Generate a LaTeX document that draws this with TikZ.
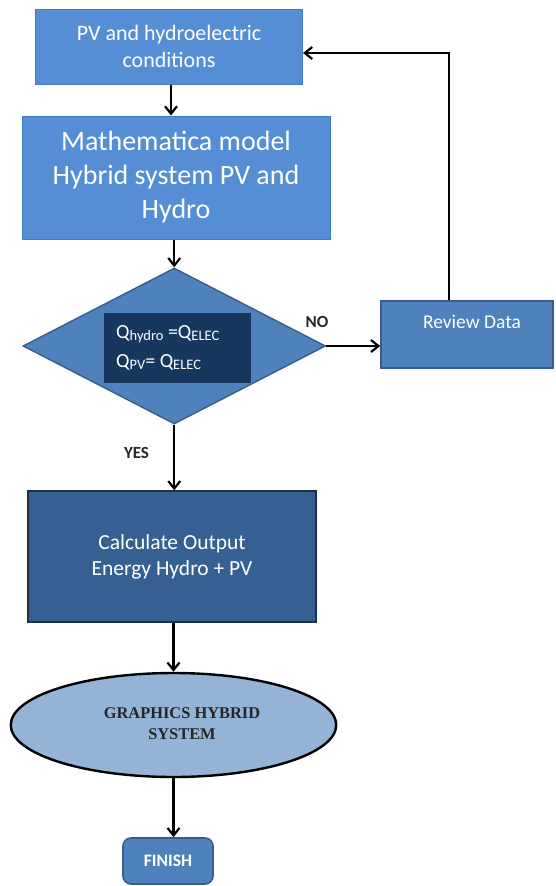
\documentclass[tikz,border=0pt]{standalone}
\usepackage{fontspec}
\setmainfont{Carlito}
\newfontfamily\serifb{Liberation Serif}
\usetikzlibrary{arrows.meta,shapes.geometric,calc}
\definecolor{lightbox}{HTML}{558ED5}
\definecolor{lightedge}{HTML}{3F7ACB}
\definecolor{midbox}{HTML}{4F81BD}
\definecolor{midedge}{HTML}{385D8A}
\definecolor{darkbox}{HTML}{376092}
\definecolor{darkedge}{HTML}{1F2F45}
\definecolor{navy}{HTML}{17375E}
\definecolor{pale}{HTML}{95B3D7}
\definecolor{labelgray}{HTML}{262626}
\newcommand\qsub[1]{\raisebox{-2.5pt}{\fontsize{14.5}{14.5}\selectfont #1}}
\begin{document}
\begin{tikzpicture}[x=1pt,y=-1pt,
  boxbase/.style={rectangle,inner sep=0pt,align=center,text=white},
  topbox/.style={boxbase,fill=lightbox,draw=lightedge,line width=1pt},
  midrect/.style={boxbase,fill=midbox,draw=midedge,line width=1.6pt},
  calcbox/.style={boxbase,fill=darkbox,draw=darkedge,line width=1.4pt},
  arr/.style={line width=2.2pt,-{Straight Barb[length=7.5pt,width=12pt]}},
  lbl/.style={font=\fontsize{17}{19}\selectfont\bfseries,text=labelgray}]
\useasboundingbox (0,0) rectangle (556,886);

% boxes
\node[topbox,minimum width=267pt,minimum height=75pt,
  font=\fontsize{22}{27}\selectfont] (box1) at (169,46.5)
  {PV and hydroelectric\\conditions};
\node[topbox,minimum width=308pt,minimum height=123pt,
  font=\fontsize{28}{34}\selectfont] (box2) at (176,177.5)
  {Mathematica model\\Hybrid system PV and\\Hydro};
\node[diamond,fill=midbox,draw=midedge,line width=1.4pt,inner sep=0pt,
  minimum width=302.5pt,minimum height=156pt] (dec) at (174.25,346) {};
\node[rectangle,fill=navy,draw=midbox,line width=0.8pt,
  minimum width=148pt,minimum height=71pt] (inner) at (177,347.5) {};
\node[anchor=west,align=left,text=white,inner sep=0pt,
  font=\fontsize{20}{29}\selectfont] (qtext) at (116,347.5)
  {Q\qsub{hydro} =Q\qsub{ELEC}\\Q\qsub{PV}= Q\qsub{ELEC}};
\node[midrect,minimum width=172pt,minimum height=67pt] (rev) at (467,334.5) {};
\node[text=white,font=\fontsize{19.5}{22}\selectfont,inner sep=0pt] (revtext) at (472,322) {Review Data};
\node[calcbox,minimum width=288pt,minimum height=131pt,
  font=\fontsize{21.5}{26}\selectfont] (box3) at (172,556.5)
  {Calculate Output\\Energy Hydro + PV};
\node[ellipse,fill=pale,draw=black,line width=2.4pt,inner sep=0pt,
  minimum width=325.5pt,minimum height=104pt] (ell) at (173.5,725) {};
\node[align=center,inner sep=0pt,text=labelgray,
  font=\serifb\bfseries\fontsize{16.4}{21}\selectfont] (elltext) at (182,724)
  {GRAPHICS HYBRID\\SYSTEM};
\node[midrect,rounded corners=8pt,minimum width=90pt,minimum height=46pt,
  font=\fontsize{17.5}{20}\selectfont\bfseries] (fin) at (168,861) {FINISH};

% labels
\node[lbl] (nolbl) at (317,322) {NO};
\node[lbl] (yeslbl) at (136.5,453) {YES};

% connectors
\draw[arr] ([xshift=2pt]box1.south) -- ([xshift=2pt]box1.south |- box2.north);
\draw[arr] (box2.south -| dec.north) -- (dec.north);
\draw[arr] (dec.south) -- (dec.south |- box3.north);
\draw[arr] (box3.south -| ell.north) -- (ell.north);
\draw[arr] (ell.south) -- (ell.south |- fin.north);
\draw[arr] (dec.east) -- (dec.east -| rev.west);
\coordinate (turn) at ($(rev.north west)+(68.5,0)$);
\draw[arr] (turn) |- ([yshift=-6.5pt]box1.east);
\end{tikzpicture}
\end{document}
